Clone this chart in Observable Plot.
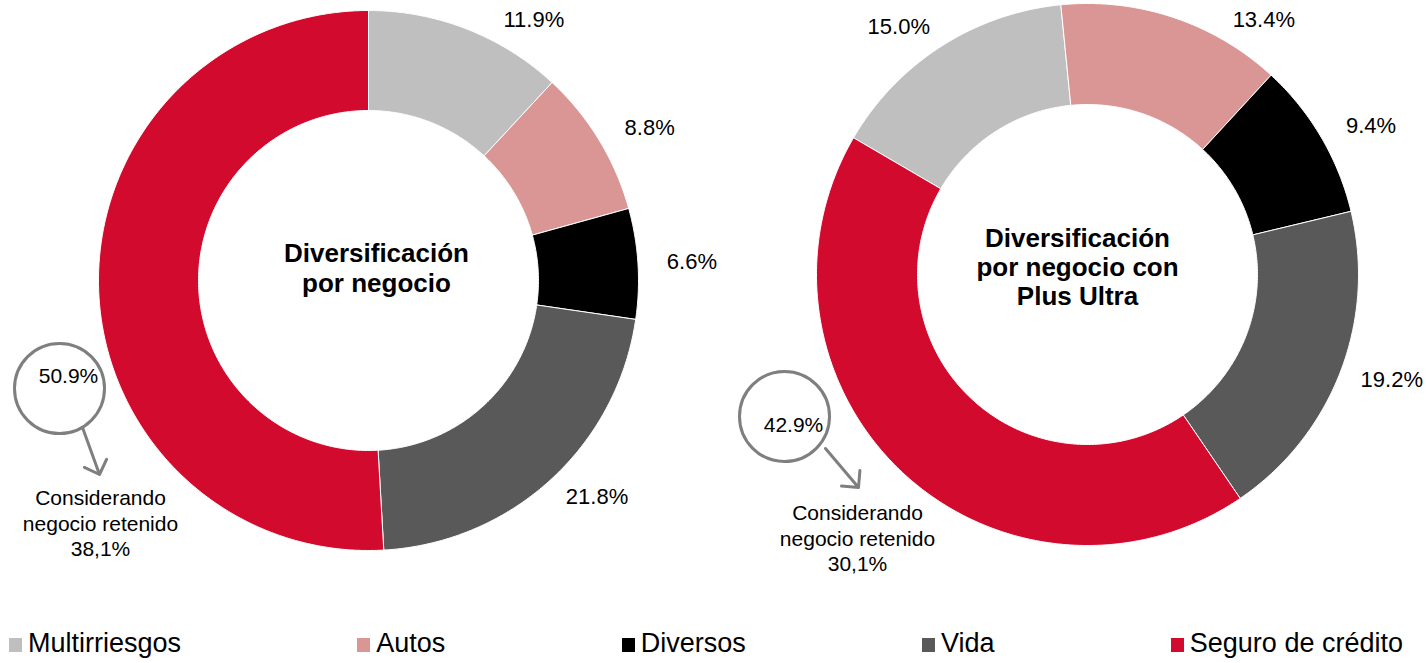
<!DOCTYPE html>
<html>
<head>
<meta charset="utf-8">
<script src="https://cdn.jsdelivr.net/npm/d3@7"></script>
<script src="https://cdn.jsdelivr.net/npm/@observablehq/plot@0.6"></script>
<style>
  html, body { margin: 0; padding: 0; background: #fff; overflow: hidden; }
  body { width: 1426px; height: 663px; font-family: "Liberation Sans", Arial, sans-serif; }
  #chart svg { display: block; }
  #legend { display: flex; justify-content: space-between; align-items: center;
            height: 43px; padding: 4px 23px 0 9px; box-sizing: border-box;
            font-size: 27px; color: #000; }
  #legend .item { display: flex; align-items: center; white-space: nowrap; }
  #legend .sw { width: 13px; height: 14px; margin-right: 6px; margin-top: 2px; }
</style>
</head>
<body>
<div id="chart"></div>
<div id="legend"></div>
<script>
// ---------- data ----------
const categories = ["Multirriesgos", "Autos", "Diversos", "Vida", "Seguro de crédito"];
const colors = ["#bfbfbf", "#d99694", "#000000", "#595959", "#d20a2e"];
const sharesLeft = [11.9, 8.8, 6.6, 21.8, 50.9];
const sharesRight = [15.0, 13.4, 9.4, 19.2, 42.9];
const chartTitles = ["Diversificación\npor negocio", "Diversificación\npor negocio con\nPlus Ultra"];
const annotationText = "Considerando\nnegocio retenido";
const retainedShares = ["38,1%", "30,1%"];
const highlightedCategory = "Seguro de crédito";

// ---------- layout (pixels) ----------
const W = 1426, H = 620;
const layouts = [
  {cx: 368, cy: 280, R: 270, r: 170, start: 0, titleDx: 8, titleDy: -13,
   circ: [-309, 108], circText: [-300, 96], arrow: [-286, 147, -269, 194], note: [-268, 242]},
  {cx: 1087, cy: 274, R: 271, r: 170, start: -59.7, titleDx: -10, titleDy: -8,
   circ: [-303, 142], circText: [-294, 151], arrow: [-262, 174, -229, 213], note: [-230, 263]}
];
const series = [sharesLeft, sharesRight];
const rad = Math.PI / 180;
const labelR = 294, labelShift = 30, labelTop = 19;

const slicePts = [], labels = [], titles = [], circles = [], circTexts = [], arrows = [], notes = [];
series.forEach((vals, ci) => {
  const L = layouts[ci];
  const total = d3.sum(vals);
  let a = L.start;
  vals.forEach((v, i) => {
    const span = v / total * 360;
    const a0 = a, a1 = a + span;
    const key = ci + "-" + i;
    const pts = [];
    const n = Math.max(2, Math.ceil(span / 0.5));
    for (let k = 0; k <= n; k++) {
      const t = (a0 + (a1 - a0) * k / n) * rad;
      pts.push({key, cat: categories[i], x: L.cx + L.R * Math.sin(t), y: L.cy - L.R * Math.cos(t)});
    }
    for (let k = n; k >= 0; k--) {
      const t = (a0 + (a1 - a0) * k / n) * rad;
      pts.push({key, cat: categories[i], x: L.cx + L.r * Math.sin(t), y: L.cy - L.r * Math.cos(t)});
    }
    pts.push({...pts[0]});
    slicePts.push(...pts);
    if (categories[i] === highlightedCategory) {
      circles.push({x: L.cx + L.circ[0], y: L.cy + L.circ[1]});
      circTexts.push({x: L.cx + L.circText[0], y: L.cy + L.circText[1], text: v.toFixed(1) + "%"});
    } else {
      const m = (a0 + a1) / 2 * rad;
      const sg = Math.sign(Math.sin(m));
      let lx = L.cx + labelR * Math.sin(m);
      let ly = L.cy - labelR * Math.cos(m);
      if (ly < labelTop) { // slide along the label circle to stay inside the chart
        const dy = L.cy - labelTop;
        lx = L.cx + sg * Math.sqrt(labelR * labelR - dy * dy);
        ly = labelTop;
      }
      labels.push({x: lx + labelShift * sg, y: ly, text: v.toFixed(1) + "%"});
    }
    a = a1;
  });
  titles.push({x: L.cx + L.titleDx, y: L.cy + L.titleDy, text: chartTitles[ci]});
  arrows.push({x1: L.cx + L.arrow[0], y1: L.cy + L.arrow[1], x2: L.cx + L.arrow[2], y2: L.cy + L.arrow[3]});
  notes.push({x: L.cx + L.note[0], y: L.cy + L.note[1], text: annotationText + "\n" + retainedShares[ci]});
});

const font = "Liberation Sans, Arial, sans-serif";
const plot = Plot.plot({
  width: W, height: H, margin: 0,
  x: {domain: [0, W], range: [0, W], axis: null},
  y: {domain: [0, H], range: [0, H], axis: null},
  color: {domain: categories, range: colors},
  style: {fontFamily: font, background: "white"},
  marks: [
    Plot.line(slicePts, {x: "x", y: "y", z: "key", fill: "cat", stroke: "white", strokeWidth: 1, curve: "linear"}),
    Plot.text(labels, {x: "x", y: "y", text: "text", fontSize: 22, fill: "black"}),
    Plot.text(titles, {x: "x", y: "y", text: "text", fontSize: 26, fontWeight: "bold", lineHeight: 1.13, fill: "black"}),
    Plot.dot(circles, {x: "x", y: "y", r: 45, stroke: "#7f7f7f", strokeWidth: 3, fill: "white"}),
    Plot.text(circTexts, {x: "x", y: "y", text: "text", fontSize: 21, fill: "black"}),
    Plot.arrow(arrows, {x1: "x1", y1: "y1", x2: "x2", y2: "y2", stroke: "#7f7f7f", strokeWidth: 3, headLength: 18, headAngle: 90}),
    Plot.text(notes, {x: "x", y: "y", text: "text", fontSize: 21, lineHeight: 1.2, fill: "black"})
  ]
});
document.getElementById("chart").appendChild(plot);

const legend = document.getElementById("legend");
categories.forEach((c, i) => {
  const item = document.createElement("div");
  item.className = "item";
  const sw = document.createElement("span");
  sw.className = "sw";
  sw.style.background = colors[i];
  item.appendChild(sw);
  item.appendChild(document.createTextNode(c));
  legend.appendChild(item);
});
</script>
</body>
</html>
